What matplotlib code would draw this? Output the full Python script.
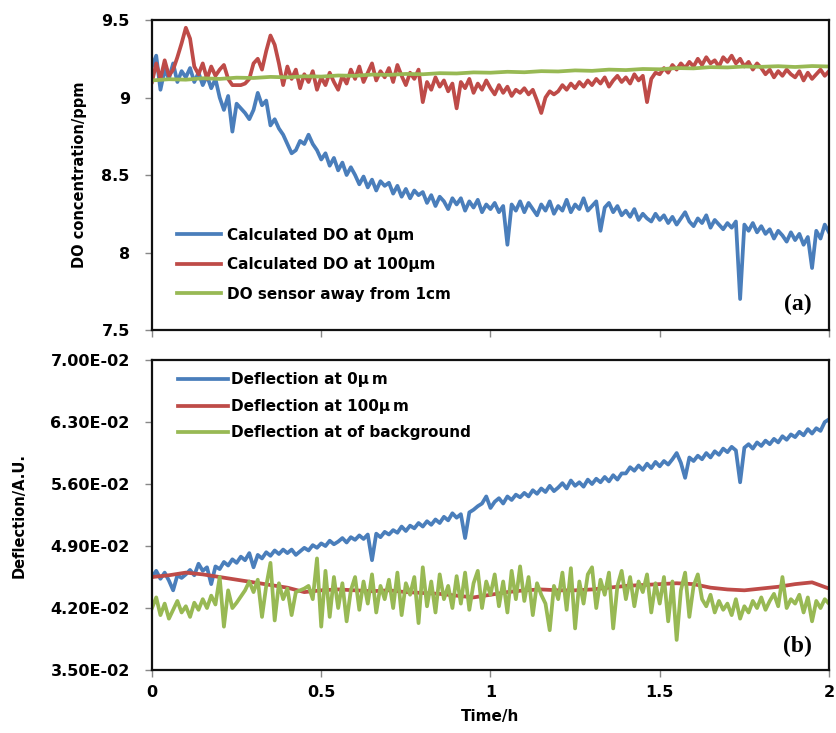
import numpy as np
import matplotlib
matplotlib.use('Agg')
import matplotlib.pyplot as plt
from matplotlib.ticker import FuncFormatter

# sampling times (h)
time_h = np.linspace(0, 2, 161)
time_slow = np.linspace(0, 2, 41)

# (a) DO concentration, ppm
do_0um = np.array([
    9.20, 9.27, 9.05, 9.18, 9.12, 9.22, 9.10, 9.17,
    9.13, 9.19, 9.10, 9.16, 9.08, 9.14, 9.06, 9.12,
    9.00, 8.92, 9.01, 8.78, 8.96, 8.93, 8.90, 8.86,
    8.92, 9.03, 8.95, 8.98, 8.82, 8.86, 8.80, 8.76,
    8.70, 8.64, 8.66, 8.72, 8.70, 8.76, 8.70, 8.66,
    8.60, 8.64, 8.56, 8.61, 8.53, 8.58, 8.50, 8.55,
    8.50, 8.44, 8.49, 8.42, 8.47, 8.40, 8.46, 8.43,
    8.45, 8.38, 8.43, 8.36, 8.41, 8.35, 8.40, 8.37,
    8.39, 8.32, 8.37, 8.30, 8.36, 8.33, 8.28, 8.35,
    8.31, 8.35, 8.27, 8.33, 8.29, 8.34, 8.26, 8.31,
    8.28, 8.32, 8.26, 8.30, 8.05, 8.31, 8.27, 8.33,
    8.26, 8.32, 8.28, 8.24, 8.31, 8.27, 8.33, 8.25,
    8.30, 8.27, 8.34, 8.26, 8.31, 8.28, 8.35, 8.27,
    8.30, 8.33, 8.14, 8.29, 8.32, 8.26, 8.30, 8.24,
    8.27, 8.23, 8.28, 8.21, 8.25, 8.22, 8.20, 8.25,
    8.21, 8.24, 8.19, 8.23, 8.18, 8.22, 8.26, 8.20,
    8.17, 8.22, 8.19, 8.24, 8.16, 8.21, 8.18, 8.15,
    8.19, 8.16, 8.20, 7.70, 8.18, 8.14, 8.19, 8.13,
    8.17, 8.12, 8.15, 8.09, 8.14, 8.11, 8.07, 8.13,
    8.08, 8.12, 8.05, 8.10, 7.90, 8.14, 8.09, 8.18,
    8.13])

do_100um = np.array([
    9.10, 9.22, 9.12, 9.24, 9.14, 9.18, 9.26, 9.35,
    9.45, 9.38, 9.20, 9.15, 9.22, 9.12, 9.20, 9.14,
    9.18, 9.21, 9.12, 9.08, 9.08, 9.08, 9.09, 9.12,
    9.22, 9.25, 9.18, 9.30, 9.40, 9.34, 9.22, 9.08,
    9.20, 9.12, 9.18, 9.06, 9.15, 9.10, 9.17, 9.05,
    9.13, 9.08, 9.16, 9.10, 9.05, 9.14, 9.09, 9.18,
    9.12, 9.20, 9.10, 9.16, 9.22, 9.11, 9.17, 9.13,
    9.19, 9.10, 9.21, 9.14, 9.08, 9.16, 9.12, 9.18,
    8.97, 9.10, 9.05, 9.13, 9.07, 9.11, 9.04, 9.09,
    8.93, 9.10, 9.06, 9.12, 9.03, 9.09, 9.05, 9.11,
    9.06, 9.02, 9.08, 9.03, 9.07, 9.01, 9.05, 9.03,
    9.06, 9.02, 9.05, 8.98, 8.90, 9.00, 9.04, 9.02,
    9.04, 9.08, 9.05, 9.09, 9.06, 9.10, 9.07, 9.11,
    9.08, 9.12, 9.09, 9.13, 9.07, 9.11, 9.14, 9.10,
    9.13, 9.09, 9.15, 9.11, 9.14, 8.97, 9.12, 9.16,
    9.15, 9.19, 9.16, 9.21, 9.18, 9.22, 9.19, 9.23,
    9.20, 9.25, 9.21, 9.26, 9.22, 9.24, 9.20, 9.26,
    9.23, 9.27, 9.22, 9.25, 9.20, 9.23, 9.18, 9.22,
    9.19, 9.15, 9.18, 9.13, 9.17, 9.14, 9.18, 9.15,
    9.13, 9.17, 9.11, 9.16, 9.12, 9.15, 9.18, 9.14,
    9.17])

do_sensor = np.array([
    9110, 9118, 9115, 9124, 9120, 9128, 9126, 9133, 9130, 9137,
    9135, 9142, 9140, 9148, 9146, 9152, 9150, 9157, 9155, 9162,
    9160, 9166, 9163, 9170, 9168, 9175, 9172, 9180, 9177, 9184,
    9182, 9190, 9188, 9196, 9194, 9200, 9198, 9202, 9197, 9203,
    9200]) / 1000

# (b) deflection, in units of 1e-2
defl_0um = np.array([
    4.55, 4.62, 4.53, 4.60, 4.51, 4.40, 4.57, 4.54,
    4.58, 4.63, 4.57, 4.70, 4.62, 4.66, 4.47, 4.67,
    4.64, 4.72, 4.68, 4.75, 4.71, 4.78, 4.74, 4.82,
    4.66, 4.80, 4.76, 4.83, 4.79, 4.85, 4.81, 4.86,
    4.82, 4.86, 4.80, 4.84, 4.88, 4.85, 4.91, 4.88,
    4.93, 4.90, 4.96, 4.92, 4.95, 4.99, 4.94, 5.00,
    4.97, 5.02, 4.98, 5.03, 4.74, 5.04, 5.00, 5.06,
    5.03, 5.08, 5.05, 5.12, 5.07, 5.13, 5.10, 5.16,
    5.12, 5.18, 5.14, 5.20, 5.16, 5.23, 5.19, 5.27,
    5.22, 5.26, 4.99, 5.28, 5.31, 5.35, 5.38, 5.46,
    5.33, 5.40, 5.44, 5.38, 5.46, 5.42, 5.48, 5.45,
    5.50, 5.46, 5.53, 5.49, 5.55, 5.51, 5.58, 5.52,
    5.56, 5.61, 5.55, 5.64, 5.58, 5.62, 5.57, 5.65,
    5.60, 5.66, 5.62, 5.68, 5.63, 5.70, 5.65, 5.72,
    5.72, 5.79, 5.75, 5.81, 5.76, 5.83, 5.78, 5.85,
    5.80, 5.86, 5.82, 5.88, 5.95, 5.84, 5.67, 5.90,
    5.86, 5.92, 5.88, 5.95, 5.90, 5.97, 5.93, 6.00,
    5.96, 6.02, 5.98, 5.62, 6.01, 6.05, 6.00, 6.07,
    6.03, 6.09, 6.05, 6.11, 6.07, 6.14, 6.10, 6.16,
    6.13, 6.19, 6.15, 6.22, 6.17, 6.23, 6.20, 6.30,
    6.33]) * 1e-2

defl_100um = np.array([
    4.55, 4.57, 4.60, 4.58, 4.55, 4.52, 4.49, 4.46, 4.43, 4.38,
    4.40, 4.41, 4.40, 4.39, 4.40, 4.38, 4.37, 4.36, 4.34, 4.32,
    4.35, 4.38, 4.40, 4.41, 4.40, 4.40, 4.41, 4.43, 4.45, 4.46,
    4.47, 4.48, 4.47, 4.43, 4.41, 4.40, 4.42, 4.44, 4.47, 4.49,
    4.42]) * 1e-2

defl_bg = np.array([
    4.20, 4.32, 4.12, 4.25, 4.08, 4.18, 4.28, 4.15,
    4.22, 4.10, 4.26, 4.18, 4.30, 4.20, 4.34, 4.24,
    4.55, 3.99, 4.40, 4.20, 4.26, 4.33, 4.40, 4.50,
    4.38, 4.52, 4.10, 4.45, 4.71, 4.06, 4.48, 4.30,
    4.42, 4.12, 4.38, 4.40, 4.42, 4.45, 4.30, 4.76,
    3.99, 4.62, 4.10, 4.55, 4.20, 4.48, 4.05, 4.40,
    4.55, 4.18, 4.50, 4.25, 4.58, 4.15, 4.45, 4.30,
    4.52, 4.20, 4.60, 4.12, 4.48, 4.35, 4.55, 4.03,
    4.66, 4.22, 4.50, 4.15, 4.58, 4.30, 4.45, 4.20,
    4.56, 4.25, 4.60, 4.18, 4.48, 4.62, 4.20, 4.50,
    4.35, 4.58, 4.22, 4.50, 4.15, 4.62, 4.30, 4.67,
    4.28, 4.55, 4.12, 4.48, 4.35, 4.25, 3.95, 4.45,
    4.30, 4.60, 4.18, 4.65, 3.97, 4.50, 4.25, 4.58,
    4.66, 4.20, 4.52, 4.35, 4.60, 3.97, 4.45, 4.62,
    4.30, 4.55, 4.22, 4.50, 4.38, 4.58, 4.15, 4.48,
    4.25, 4.55, 4.05, 4.50, 3.84, 4.40, 4.60, 4.10,
    4.45, 4.58, 4.30, 4.22, 4.35, 4.15, 4.28, 4.18,
    4.25, 4.12, 4.30, 4.08, 4.22, 4.15, 4.28, 4.20,
    4.32, 4.18, 4.28, 4.36, 4.22, 4.55, 4.20, 4.30,
    4.25, 4.35, 4.15, 4.32, 4.05, 4.28, 4.20, 4.30,
    4.25]) * 1e-2

x_ticks = [0, 0.5, 1, 1.5, 2]
do_ticks = [7.5, 8, 8.5, 9, 9.5]
defl_ticks = [0.035, 0.042, 0.049, 0.056, 0.063, 0.070]

blue = '#4a7ebb'
red = '#be4b48'
green = '#98b954'

plt.rcParams['font.family'] = ['DejaVu Sans']
plt.rcParams['font.weight'] = 'bold'

fig = plt.figure(figsize=(8.36, 7.33), dpi=100)
ax1 = fig.add_axes([0.1818, 0.5498, 0.8098, 0.4229])
ax2 = fig.add_axes([0.1818, 0.0859, 0.8098, 0.4229])

lw = 2.7
ax1.plot(time_h, do_0um, color=blue, lw=lw, label='Calculated DO at 0\u00b5m')
ax1.plot(time_h, do_100um, color=red, lw=lw, label='Calculated DO at 100\u00b5m')
ax1.plot(time_slow, do_sensor, color=green, lw=lw, label='DO sensor away from 1cm')

ax2.plot(time_h, defl_0um, color=blue, lw=lw, label='Deflection at 0\u00b5\u2009m')
ax2.plot(time_slow, defl_100um, color=red, lw=lw, label='Deflection at 100\u00b5\u2009m')
ax2.plot(time_h, defl_bg, color=green, lw=lw, label='Deflection at of background')

for ax in (ax1, ax2):
    ax.set_xlim(0, 2)
    ax.set_xticks(x_ticks)
    for s in ax.spines.values():
        s.set_linewidth(1.6)
        s.set_color('#111111')
    ax.tick_params(direction='out', length=5, width=1, color='#888888',
                   labelsize=11.5, pad=6)
    ax.tick_params(axis='y', pad=11)

ax1.set_ylim(7.5, 9.5)
ax1.set_yticks(do_ticks)
ax1.yaxis.set_major_formatter(FuncFormatter(lambda v, p: '%g' % v))
ax1.set_xticklabels([])
ax1.set_ylabel('DO concentration/ppm', fontsize=10.5, fontweight='bold', labelpad=10)

ax2.set_ylim(0.035, 0.070)
ax2.set_yticks(defl_ticks)
ax2.yaxis.set_major_formatter(FuncFormatter(lambda v, p: '%.2E' % v))
ax2.xaxis.set_major_formatter(FuncFormatter(lambda v, p: '%g' % v))
ax2.set_ylabel('Deflection/A.U.', fontsize=10.5, fontweight='bold', labelpad=17)
ax2.set_xlabel('Time/h', fontsize=11, fontweight='bold', labelpad=6)

ax1.legend(loc='upper left', bbox_to_anchor=(0.037, 0.33), frameon=False,
           fontsize=11, handlelength=2.9, handletextpad=0.4, labelspacing=0.95,
           borderpad=0, borderaxespad=0)
ax2.legend(loc='upper left', bbox_to_anchor=(0.038, 0.96), frameon=False,
           fontsize=11, handlelength=3.3, handletextpad=0.2, labelspacing=0.75,
           borderpad=0, borderaxespad=0)

ax1.text(0.975, 0.084, '(a)', transform=ax1.transAxes, ha='right', va='center',
         fontsize=17, fontweight='bold', family='Liberation Serif')
ax2.text(0.975, 0.077, '(b)', transform=ax2.transAxes, ha='right', va='center',
         fontsize=17, fontweight='bold', family='Liberation Serif')

fig.savefig('out.png', dpi=100)
